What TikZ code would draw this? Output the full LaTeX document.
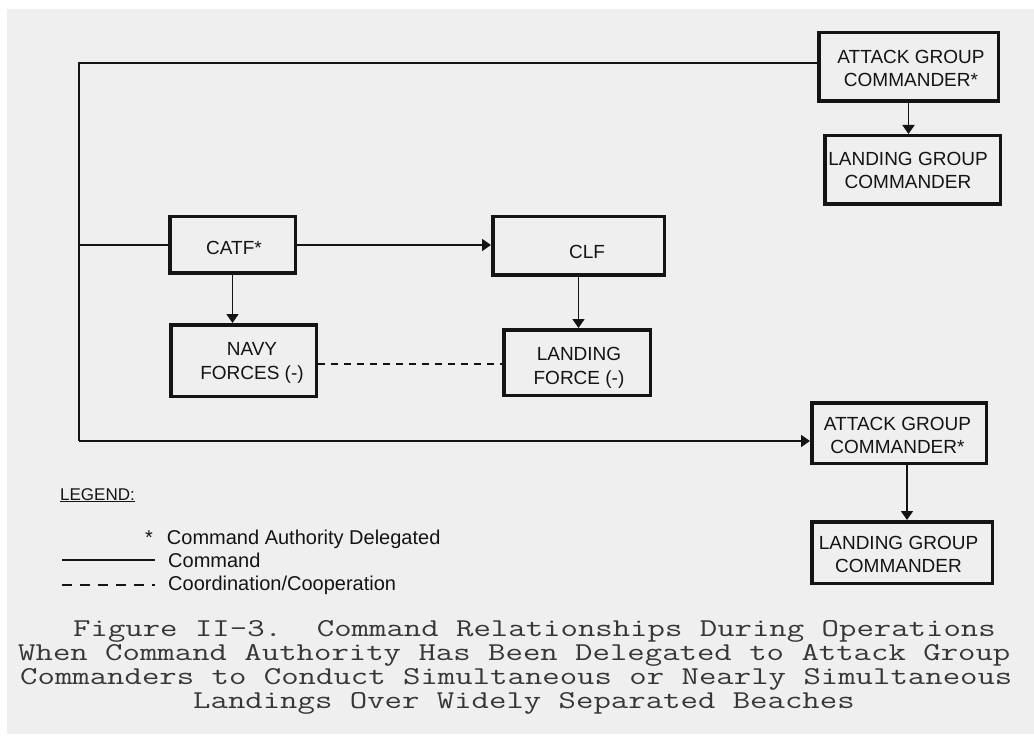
\documentclass[tikz,border=0pt]{standalone}
\usepackage{fontspec}
\setmainfont{Liberation Sans}
\usetikzlibrary{arrows.meta,calc}
\definecolor{bgray}{HTML}{EFEFEF}
\definecolor{ink}{HTML}{141414}
\newcommand{\capline}[1]{\scalebox{1}[0.76]{#1}}
\begin{document}
\begin{tikzpicture}[x=1pt,y=-1pt,
  box/.style 2 args={draw=ink, line width=3.5pt, minimum width=#1, minimum height=#2, inner sep=0pt},
  btext/.style={font=\fontsize{19pt}{23.5pt}\selectfont, align=center, text=ink, inner sep=0pt},
  cmd/.style={draw=ink, line width=1.8pt},
  arr/.style={cmd, -{Triangle[width=12pt,length=9pt]}},
  coord/.style={draw=ink, line width=1.8pt, dash pattern=on 7pt off 6pt},
  legtext/.style={font=\fontsize{20pt}{24pt}\selectfont, text=ink, inner sep=0pt, anchor=base west},
  captext/.style={font=\ttfamily\fontsize{33.8pt}{34pt}\selectfont, text=ink!85, inner sep=0pt, anchor=base west}]
\useasboundingbox (0,0) rectangle (1034,738);
\fill[white] (0,0) rectangle (1034,738);
\fill[bgray] (7,9) rectangle (1034,734);

% boxes
\node[box={179.5pt}{68.5pt}] (agc1) at (908.5,67) {};
\node[box={175.5pt}{68.5pt}] (lgc1) at (912.5,170) {};
\node[box={125.5pt}{56.5pt}] (catf) at (232.5,245) {};
\node[box={171.5pt}{58.5pt}] (clf) at (578.5,246) {};
\node[box={145.5pt}{71.5pt}] (navy) at (243.5,360.5) {};
\node[box={146.5pt}{65.5pt}] (lf) at (577,362.5) {};
\node[box={174.5pt}{60.5pt}] (agc2) at (899,433) {};
\node[box={180.5pt}{61.5pt}] (lgc2) at (902,552.5) {};

% box texts
\node[btext] (agc1t) at (911,68.5) {ATTACK GROUP\\COMMANDER*};
\node[btext] (lgc1t) at (908,170.5) {LANDING GROUP\\COMMANDER};
\node[btext] (catft) at (234,247.5) {CATF*};
\node[btext] (clft) at (587,251.5) {CLF};
\node[btext] (navyt) at (252,363) {NAVY\\FORCES (-)};
\node[btext] (lft) at (579,368) {LANDING\\FORCE (-)};
\node[btext] (agc2t) at (897.5,435.5) {ATTACK GROUP\\COMMANDER*};
\node[btext] (lgc2t) at (898.5,554.5) {LANDING GROUP\\COMMANDER};

% connectors
\coordinate (tl) at (79,63);
\coordinate (bl) at (79,441);
\draw[cmd] (agc1.west |- tl) -- (tl) -- (bl);
\draw[arr] (bl) -- (agc2.west |- bl);
\draw[cmd] (catf.west) -- (catf.west -| tl);
\draw[arr] (catf.east) -- (catf.east -| clf.west);
\draw[arr] (catf.south) -- (catf.south |- navy.north);
\draw[arr] (clf.south) -- (clf.south |- lf.north);
\draw[coord] ([yshift=-3.5pt]navy.east) -- ([yshift=-3.5pt]navy.east -| lf.west);
\draw[arr] (agc1.south) -- (agc1.south |- lgc1.north);
\draw[arr] ([xshift=8pt]agc2.south) -- ([xshift=8pt]agc2.south |- lgc2.north);

% legend
\node[font=\fontsize{17pt}{20pt}\selectfont, text=ink, inner sep=0pt, anchor=base west] (leg) at (60,500) {\underline{LEGEND:}};
\node[legtext] (l1) at (145,544) {*\hspace{14pt}Command Authority Delegated};
\coordinate (c1a) at (62,560);
\coordinate (c1b) at (155,560);
\draw[draw=ink, line width=1.6pt] (c1a) -- (c1b);
\node[legtext] (l2) at (168,567) {Command};
\coordinate (c2a) at (62,585);
\coordinate (c2b) at (155,585);
\draw[draw=ink, line width=2.6pt, dash pattern=on 10pt off 8pt] (c2a) -- (c2b);
\node[legtext] (l3) at (168,590) {Coordination/Cooperation};

% caption
\node[captext] (cap1) at (73,636) {\capline{Figure II-3.\ \ Command Relationships During Operations}};
\node[captext] (cap2) at (18,660) {\capline{When Command Authority Has Been Delegated to Attack Group}};
\node[captext] (cap3) at (20,684) {\capline{Commanders to Conduct Simultaneous or Nearly Simultaneous}};
\node[captext] (cap4) at (193,708) {\capline{Landings Over Widely Separated Beaches}};
\end{tikzpicture}
\end{document}
